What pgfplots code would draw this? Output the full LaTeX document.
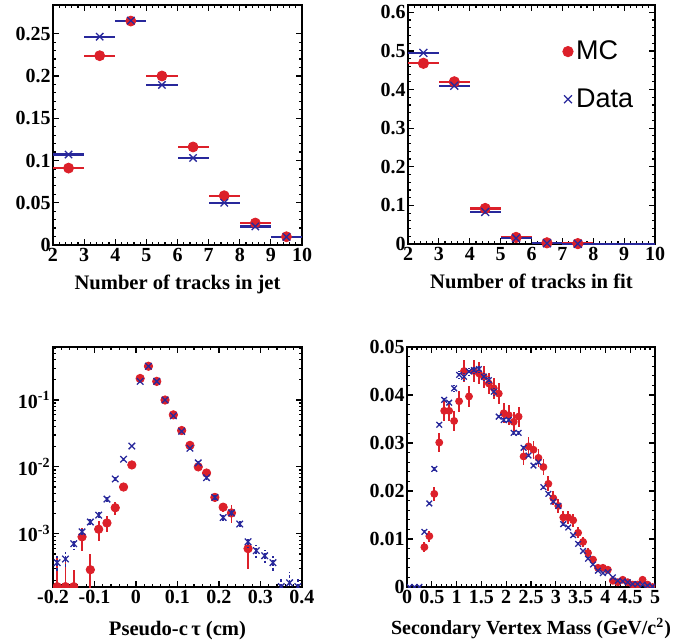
\documentclass[border=0pt]{standalone}
\usepackage{pgfplots}
\pgfplotsset{compat=1.18}
\usepackage{fontspec}
\setmainfont{Liberation Serif}
\newfontfamily\legfont{Liberation Sans}
\definecolor{mcred}{RGB}{220,32,42}
\definecolor{datablue}{RGB}{40,40,155}
\pgfplotsset{
  every axis/.style={
    scale only axis, anchor=south west,
    tick align=inside,
    axis line style={line width=1pt},
    every tick/.style={black, line width=0.6pt},
    major tick length=3pt, minor tick length=1.6pt,
    tick label style={font=\fontsize{10}{12}\selectfont\bfseries},
    yticklabel style={inner sep=1pt},
    xticklabel style={inner sep=1.5pt},
    label style={font=\fontsize{10.3}{12}\selectfont\bfseries},
    scaled ticks=false,
  },
  mcstyle/.style={only marks, mark=*, mcred, mark size=#1},
  datastyle/.style={only marks, mark=x, datablue, mark size=#1, mark options={line width=0.65pt}},
}
\begin{document}
\begin{tikzpicture}
\path[use as bounding box] (0,0) rectangle (341.5pt,321.5pt);

% ---------- top left ----------
\begin{axis}[at={(26.5pt,199pt)}, width=124.5pt, height=120pt,
  xmin=2, xmax=10, ymin=0, ymax=0.284,
  xtick={2,3,4,5,6,7,8,9,10}, xticklabels={2,3,4,5,6,7,8,9,10},
  minor x tick num=4,
  ytick={0,0.05,0.1,0.15,0.2,0.25}, yticklabels={0,0.05,0.1,0.15,0.2,0.25},
  minor y tick num=4,
  xlabel={Number of tracks in jet},
  xlabel style={at={(axis description cs:0.5,0)}, anchor=north, yshift=-11.5pt},
]
\addplot[mcstyle=2.5pt, error bars/.cd, x dir=both, x explicit, error mark=none,
  error bar style={line width=1.2pt, mcred}] coordinates {
(2.5,0.091) +- (0.5,0)
(3.5,0.224) +- (0.5,0)
(4.5,0.265) +- (0.5,0)
(5.5,0.200) +- (0.5,0)
(6.5,0.116) +- (0.5,0)
(7.5,0.0583) +- (0.5,0)
(8.5,0.026) +- (0.5,0)
(9.5,0.0098) +- (0.5,0)
};
\addplot[datastyle=2.6pt, error bars/.cd, x dir=both, x explicit, error mark=none,
  error bar style={line width=1.1pt, datablue}] coordinates {
(2.5,0.107) +- (0.5,0)
(3.5,0.2465) +- (0.5,0)
(4.5,0.2655) +- (0.5,0)
(5.5,0.1894) +- (0.5,0)
(6.5,0.103) +- (0.5,0)
(7.5,0.050) +- (0.5,0)
(8.5,0.022) +- (0.5,0)
(9.5,0.0095) +- (0.5,0)
};
\end{axis}

% ---------- top right ----------
\begin{axis}[at={(204pt,199.5pt)}, width=123.5pt, height=119.5pt,
  xmin=2, xmax=10, ymin=0, ymax=0.619,
  xtick={2,3,4,5,6,7,8,9,10}, xticklabels={2,3,4,5,6,7,8,9,10},
  minor x tick num=4,
  ytick={0,0.1,0.2,0.3,0.4,0.5,0.6}, yticklabels={0,0.1,0.2,0.3,0.4,0.5,0.6},
  minor y tick num=4,
  xlabel={Number of tracks in fit},
  xlabel style={at={(axis description cs:0.5,0)}, anchor=north, yshift=-11.5pt},
  legend style={at={(rel axis cs:0.625,0.865)}, anchor=north west, draw=none, fill=none,
    font=\legfont\fontsize{13.5}{15}\selectfont, row sep=10pt, inner sep=0pt,
    nodes={inner sep=1.5pt}},
  legend cell align=left,
  legend image code/.code={\draw[#1] plot coordinates {(0.15cm,0cm)};},
]
\addplot[mcstyle=2.6pt, error bars/.cd, x dir=both, x explicit, error mark=none,
  error bar style={line width=1.2pt, mcred}] coordinates {
(2.5,0.468) +- (0.5,0)
(3.5,0.420) +- (0.5,0)
(4.5,0.092) +- (0.5,0)
(5.5,0.017) +- (0.5,0)
(6.5,0.003) +- (0.5,0)
(7.5,0.001) +- (0.5,0)
};
\addlegendentry{MC}
\addplot[datastyle=2.8pt, error bars/.cd, x dir=both, x explicit, error mark=none,
  error bar style={line width=1.1pt, datablue}] coordinates {
(2.5,0.495) +- (0.5,0)
(3.5,0.410) +- (0.5,0)
(4.5,0.083) +- (0.5,0)
(5.5,0.015) +- (0.5,0)
(6.5,0.002) +- (0.5,0)
(7.5,0.0005) +- (0.5,0)
};
\addlegendentry{Data}
\addplot[forget plot, datablue, only marks, mark=*, mark size=0pt, error bars/.cd, x dir=both, x explicit, error mark=none,
  error bar style={line width=1.1pt, datablue}] coordinates {
(8.5,0) +- (0.5,0)
(9.5,0) +- (0.5,0)
};
\end{axis}

% ---------- bottom left ----------
\begin{axis}[at={(26.5pt,28pt)}, width=124.5pt, height=120pt,
  xmin=-0.2, xmax=0.4, ymode=log, ymin=1.6e-4, ymax=0.62,
  xtick={-0.2,-0.1,0,0.1,0.2,0.3,0.4}, xticklabels={-0.2,-0.1,0,0.1,0.2,0.3,0.4},
  minor x tick num=4,
  ytick={1e-3,1e-2,1e-1},
  yticklabels={10\textsuperscript{-3},10\textsuperscript{-2},10\textsuperscript{-1}},
  minor ytick={2e-4,3e-4,4e-4,5e-4,6e-4,7e-4,8e-4,9e-4,2e-3,3e-3,4e-3,5e-3,6e-3,7e-3,8e-3,9e-3,2e-2,3e-2,4e-2,5e-2,6e-2,7e-2,8e-2,9e-2,2e-1,3e-1,4e-1,5e-1,6e-1},
  clip marker paths=true,
  xlabel={Pseudo-c\,τ (cm)},
  xlabel style={at={(axis description cs:0.5,0)}, anchor=north, yshift=-13.8pt},
]
\addplot[mcstyle=2.1pt, error bars/.cd, y dir=both, y explicit, error mark=none,
  error bar style={line width=0.9pt, mcred}] coordinates {
(-0.19,1.62e-4) += (0,2.8e-4) -= (0,0.5e-4)
(-0.17,1.62e-4) += (0,2.2e-4) -= (0,0.5e-4)
(-0.15,1.62e-4) += (0,1.3e-4) -= (0,0.5e-4)
(-0.13,9.0e-4) += (0,3e-4) -= (0,3.5e-4)
(-0.11,2.9e-4) += (0,2.1e-4) -= (0,1.5e-4)
(-0.09,1.17e-3) += (0,3.8e-4) -= (0,4e-4)
(-0.07,1.45e-3) += (0,4e-4) -= (0,4e-4)
(-0.05,2.45e-3) += (0,5.5e-4) -= (0,5.5e-4)
(-0.03,5.0e-3) += (0,6e-4) -= (0,6e-4)
(-0.01,1.07e-2) += (0,8e-4) -= (0,8e-4)
(0.01,0.21) += (0,0.004) -= (0,0.004)
(0.03,0.32) += (0,0.005) -= (0,0.005)
(0.05,0.19) += (0,0.004) -= (0,0.004)
(0.07,0.10) += (0,0.003) -= (0,0.003)
(0.09,0.060) += (0,0.002) -= (0,0.002)
(0.11,0.035) += (0,0.0015) -= (0,0.0015)
(0.13,0.021) += (0,0.0012) -= (0,0.0012)
(0.15,0.010) += (0,8e-4) -= (0,8e-4)
(0.17,0.0081) += (0,7e-4) -= (0,7e-4)
(0.19,0.0035) += (0,5e-4) -= (0,5e-4)
(0.21,0.0025) += (0,4e-4) -= (0,4e-4)
(0.23,0.00205) += (0,6e-4) -= (0,6e-4)
(0.27,6.0e-4) += (0,2e-4) -= (0,3e-4)
};
\addplot[datastyle=2.3pt, error bars/.cd, y dir=both, y explicit, error mark=none,
  error bar style={line width=0.9pt, datablue, dash pattern=on 1.5pt off 1pt}] coordinates {
(-0.19,3.7e-4) += (0,1.0e-4) -= (0,1.0e-4)
(-0.17,4.2e-4) += (0,1.1e-4) -= (0,1.1e-4)
(-0.15,7.1e-4) += (0,1.3e-4) -= (0,1.3e-4)
(-0.13,1.07e-3) += (0,1.6e-4) -= (0,1.6e-4)
(-0.11,1.5e-3) += (0,2e-4) -= (0,2e-4)
(-0.09,1.9e-3) += (0,2.2e-4) -= (0,2.2e-4)
(-0.07,3.3e-3) += (0,3e-4) -= (0,3e-4)
(-0.05,6.6e-3) += (0,4e-4) -= (0,4e-4)
(-0.03,1.3e-2) += (0,6e-4) -= (0,6e-4)
(-0.01,2.05e-2) += (0,8e-4) -= (0,8e-4)
(0.01,0.19) += (0,0.003) -= (0,0.003)
(0.03,0.32) += (0,0.004) -= (0,0.004)
(0.05,0.19) += (0,0.003) -= (0,0.003)
(0.07,0.10) += (0,0.002) -= (0,0.002)
(0.09,0.058) += (0,0.0015) -= (0,0.0015)
(0.11,0.034) += (0,0.001) -= (0,0.001)
(0.13,0.019) += (0,8e-4) -= (0,8e-4)
(0.15,0.0115) += (0,6e-4) -= (0,6e-4)
(0.17,0.0069) += (0,4.5e-4) -= (0,4.5e-4)
(0.19,0.0035) += (0,3e-4) -= (0,3e-4)
(0.21,1.75e-3) += (0,2.2e-4) -= (0,2.2e-4)
(0.23,2.05e-3) += (0,2.4e-4) -= (0,2.4e-4)
(0.25,1.4e-3) += (0,2e-4) -= (0,2e-4)
(0.27,7.6e-4) += (0,1.4e-4) -= (0,1.4e-4)
(0.29,5.6e-4) += (0,1.2e-4) -= (0,1.2e-4)
(0.31,4.7e-4) += (0,1.1e-4) -= (0,1.1e-4)
(0.33,3.7e-4) += (0,1.0e-4) -= (0,1.0e-4)
(0.35,1.62e-4) += (0,0.6e-4) -= (0,0.5e-4)
(0.37,1.85e-4) += (0,0.8e-4) -= (0,0.5e-4)
(0.39,1.62e-4) += (0,0.5e-4) -= (0,0.5e-4)
};
\end{axis}

% ---------- bottom right ----------
\begin{axis}[at={(203.5pt,28pt)}, width=124pt, height=120pt,
  xmin=0, xmax=5, ymin=0, ymax=0.05,
  xtick={0,0.5,1,1.5,2,2.5,3,3.5,4,4.5,5}, xticklabels={0,0.5,1,1.5,2,2.5,3,3.5,4,4.5,5},
  minor x tick num=4,
  ytick={0,0.01,0.02,0.03,0.04,0.05}, yticklabels={0,0.01,0.02,0.03,0.04,0.05},
  minor y tick num=4,
  clip marker paths=true,
  xlabel={Secondary Vertex Mass (GeV/c\textsuperscript{2})},
  xlabel style={at={(axis description cs:0.5,0)}, anchor=north, yshift=-12pt,
    font=\fontsize{10}{12}\selectfont\bfseries},
]
\addplot[mcstyle=1.75pt, error bars/.cd, y dir=both, y explicit, error mark=none,
  error bar style={line width=0.9pt, mcred}] coordinates {
(0.35,0.0083) +- (0,0.0010)
(0.45,0.0106) +- (0,0.00113)
(0.55,0.0194) +- (0,0.00153)
(0.65,0.0301) +- (0,0.0019)
(0.75,0.0367) +- (0,0.0021)
(0.85,0.0367) +- (0,0.0021)
(0.95,0.0346) +- (0,0.00205)
(1.05,0.0387) +- (0,0.00216)
(1.15,0.0450) +- (0,0.00233)
(1.25,0.0397) +- (0,0.0022)
(1.35,0.0450) +- (0,0.00233)
(1.45,0.0445) +- (0,0.0023)
(1.55,0.0438) +- (0,0.0023)
(1.65,0.0424) +- (0,0.00226)
(1.75,0.0414) +- (0,0.00224)
(1.85,0.0403) +- (0,0.0022)
(1.95,0.0362) +- (0,0.0021)
(2.05,0.0358) +- (0,0.0021)
(2.15,0.0344) +- (0,0.00204)
(2.25,0.0355) +- (0,0.00207)
(2.35,0.0272) +- (0,0.0018)
(2.45,0.0293) +- (0,0.0019)
(2.55,0.0286) +- (0,0.00186)
(2.65,0.0269) +- (0,0.0018)
(2.75,0.0250) +- (0,0.00174)
(2.85,0.0215) +- (0,0.0016)
(2.95,0.0185) +- (0,0.0015)
(3.05,0.0169) +- (0,0.00143)
(3.15,0.0145) +- (0,0.0013)
(3.25,0.0145) +- (0,0.0013)
(3.35,0.0139) +- (0,0.0013)
(3.45,0.0113) +- (0,0.00117)
(3.55,0.0094) +- (0,0.00107)
(3.65,0.0071) +- (0,0.00093)
(3.75,0.0057) +- (0,0.00083)
(3.85,0.0040) +- (0,0.0007)
(3.95,0.0040) +- (0,0.0007)
(4.05,0.0036) +- (0,0.00066)
(4.15,0.0013) +- (0,0.0004)
(4.25,0.0010) +- (0,0.00035)
(4.35,0.0015) +- (0,0.00043)
(4.45,0.0010) +- (0,0.00035)
(4.55,0.0005) +- (0,0.00025)
(4.65,0.0005) +- (0,0.00025)
(4.75,0.0015) +- (0,0.00043)
(4.85,0.0005) +- (0,0.00025)
(4.95,0.0) +- (0,0.0)
};
\addplot[datastyle=2pt, error bars/.cd, y dir=both, y explicit, error mark=none,
  error bar style={line width=0.8pt, datablue, dash pattern=on 0.8pt off 0.8pt}] coordinates {
(0.05,0) +- (0,0)
(0.15,0) +- (0,0)
(0.25,0) +- (0,0)
(0.35,0.0115) +- (0,0.00045)
(0.45,0.0174) +- (0,0.00045)
(0.55,0.0246) +- (0,0.00055)
(0.65,0.0338) +- (0,0.00065)
(0.75,0.0390) +- (0,0.00065)
(0.85,0.0384) +- (0,0.00065)
(0.95,0.0414) +- (0,0.0007)
(1.05,0.0442) +- (0,0.0007)
(1.15,0.0438) +- (0,0.0007)
(1.25,0.0449) +- (0,0.0007)
(1.35,0.0452) +- (0,0.0007)
(1.45,0.0454) +- (0,0.0007)
(1.55,0.0438) +- (0,0.0007)
(1.65,0.0431) +- (0,0.0007)
(1.75,0.0407) +- (0,0.0007)
(1.85,0.0355) +- (0,0.00065)
(1.95,0.0348) +- (0,0.00065)
(2.05,0.0348) +- (0,0.00065)
(2.15,0.0321) +- (0,0.00065)
(2.25,0.0321) +- (0,0.00065)
(2.35,0.0290) +- (0,0.00055)
(2.45,0.0274) +- (0,0.00055)
(2.55,0.0253) +- (0,0.00055)
(2.65,0.0260) +- (0,0.00055)
(2.75,0.0208) +- (0,0.00055)
(2.85,0.0194) +- (0,0.00045)
(2.95,0.0178) +- (0,0.00045)
(3.05,0.0169) +- (0,0.00045)
(3.15,0.0131) +- (0,0.00045)
(3.25,0.0124) +- (0,0.00045)
(3.35,0.0108) +- (0,0.00045)
(3.45,0.0090) +- (0,0.0003)
(3.55,0.0075) +- (0,0.0003)
(3.65,0.0059) +- (0,0.0003)
(3.75,0.0047) +- (0,0.0002)
(3.85,0.0034) +- (0,0.0002)
(3.95,0.0029) +- (0,0.0002)
(4.05,0.0031) +- (0,0.0002)
(4.15,0.0020) +- (0,0.0002)
(4.25,0.0013) +- (0,0.0002)
(4.35,0.0012) +- (0,0.0002)
(4.45,0.0010) +- (0,0.0002)
(4.55,0.0006) +- (0,0.0002)
(4.65,0.0006) +- (0,0.0002)
(4.75,0.0005) +- (0,0.0002)
(4.85,0.0003) +- (0,0.0002)
(4.95,0.0001) +- (0,0.0002)
};
\end{axis}
\end{tikzpicture}
\end{document}
